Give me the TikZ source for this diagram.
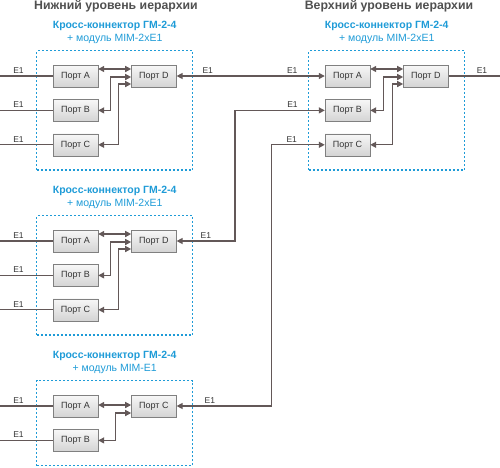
\documentclass[tikz,border=0pt]{standalone}
\usepackage{fontspec}
\setmainfont{Liberation Sans}
\usetikzlibrary{positioning}
\usetikzlibrary{fit}
\usetikzlibrary{arrows.meta}
\definecolor{lnkgray}{HTML}{635858}
\definecolor{ttlblue}{HTML}{1E9BD7}
\definecolor{hdrgray}{HTML}{505050}
\def\myhdist{33pt}
\def\myvdist{12pt}
\tikzset{
>={Triangle[length=6pt,width=6pt]}, % All arrows with filled triangle
port/.style={draw=black!50,top color=black!3,bottom color=black!17,
  minimum width=45pt,minimum height=22pt,inner sep=0pt,
  font=\fontsize{9}{10}\selectfont,text=black!80},
frame/.style={draw=ttlblue,line width=1.2pt,dash pattern=on 2pt off 2pt,
  inner xsep=16pt,inner ysep=14pt},
ttl/.style={align=center,text=ttlblue,font=\fontsize{10.5}{12.5}\selectfont},
hdr/.style={anchor=base,text=hdrgray,font=\bfseries\fontsize{12.3}{13}\selectfont},
lnk/.style={draw=lnkgray,line width=1.3pt},
lbl/.style={above,inner sep=2pt,font=\fontsize{8.5}{9}\selectfont,text=black!80},
}

\begin{document}
\begin{tikzpicture}[x=1pt,y=-1pt]
\useasboundingbox (0,0) rectangle (500,467);
\coordinate (w) at (0,0);
\coordinate (e) at (500,0);
\coordinate (v1) at (235,0);
\coordinate (v2) at (271.5,0);
\node[hdr] at (116,9.5) {Нижний уровень иерархии};
\node[hdr] at (389,9.5) {Верхний уровень иерархии};

% lower level, first cross-connector
\node[port] (a1) at (75.5,76) {Порт A};
\node[port,below=\myvdist of a1] (b1) {Порт B};
\node[port,below=\myvdist of b1] (c1) {Порт C};
\node[port,right=\myhdist of a1] (d1) {Порт D};
\node[frame,fit=(a1)(c1)(d1)] (f1) {};
\node[ttl,above=3pt of f1] {\textbf{Кросс-коннектор ГМ-2-4}\\+ модуль MIM-2xE1};
\draw[lnk,<->] ([yshift=7pt]a1.east) -- ([yshift=7pt]d1.west);
\draw[lnk,<->] (b1.east) -- ++(12,0) |- ([yshift=-1pt]d1.west);
\draw[lnk,<->] (c1.east) -- ++(20,0) |- ([yshift=-8pt]d1.west);
\draw[lnk] (w |- a1.west) -- (a1.west) node[lbl,pos=.35]{E1};
\draw[lnk] (w |- b1.west) -- (b1.west) node[lbl,pos=.35]{E1};
\draw[lnk] (w |- c1.west) -- (c1.west) node[lbl,pos=.35]{E1};

% upper level
\node[port] (a2) at (347.5,76) {Порт A};
\node[port,below=\myvdist of a2] (b2) {Порт B};
\node[port,below=\myvdist of b2] (c2) {Порт C};
\node[port,right=\myhdist of a2] (d2) {Порт D};
\node[frame,fit=(a2)(c2)(d2)] (f2) {};
\node[ttl,above=3pt of f2] {\textbf{Кросс-коннектор ГМ-2-4}\\+ модуль MIM-2xE1};
\draw[lnk,<->] ([yshift=7pt]a2.east) -- ([yshift=7pt]d2.west);
\draw[lnk,<->] (b2.east) -- ++(13,0) |- ([yshift=-1pt]d2.west);
\draw[lnk,<->] (c2.east) -- ++(22,0) |- ([yshift=-8pt]d2.west);
\draw[lnk] (d2.east) -- (e |- d2.east) node[lbl,pos=.65]{E1};
\draw[lnk,<->] (d1.east) -- (a2.west) node[lbl,pos=.21]{E1} node[lbl,pos=.78]{E1};

% lower level, second cross-connector
\node[port] (a3) at (75.5,241) {Порт A};
\node[port,below=\myvdist of a3] (b3) {Порт B};
\node[port,below=\myvdist of b3] (c3) {Порт C};
\node[port,right=\myhdist of a3] (d3) {Порт D};
\node[frame,fit=(a3)(c3)(d3)] (f3) {};
\node[ttl,above=3pt of f3] {\textbf{Кросс-коннектор ГМ-2-4}\\+ модуль MIM-2xE1};
\draw[lnk,<->] ([yshift=7pt]a3.east) -- ([yshift=7pt]d3.west);
\draw[lnk,<->] (b3.east) -- ++(12,0) |- ([yshift=-1pt]d3.west);
\draw[lnk,<->] (c3.east) -- ++(20,0) |- ([yshift=-8pt]d3.west);
\draw[lnk] (w |- a3.west) -- (a3.west) node[lbl,pos=.35]{E1};
\draw[lnk] (w |- b3.west) -- (b3.west) node[lbl,pos=.35]{E1};
\draw[lnk] (w |- c3.west) -- (c3.west) node[lbl,pos=.35]{E1};
\draw[lnk,<->] (d3.east) -- (d3.east -| v1) node[lbl,midway]{E1}
  |- (b2.west) node[lbl,pos=.82]{E1};

% lower level, third cross-connector
\node[port] (a4) at (75.5,406) {Порт A};
\node[port,below=\myvdist of a4] (b4) {Порт B};
\node[port,right=\myhdist of a4] (c4) {Порт C};
\node[frame,fit=(a4)(b4)(c4)] (f4) {};
\node[ttl,above=3pt of f4] {\textbf{Кросс-коннектор ГМ-2-4}\\+ модуль MIM-E1};
\draw[lnk,<->] ([yshift=1pt]a4.east) -- ([yshift=1pt]c4.west);
\draw[lnk,<->] (b4.east) -- ++(17,0) |- ([yshift=-7pt]c4.west);
\draw[lnk] (w |- a4.west) -- (a4.west) node[lbl,pos=.35]{E1};
\draw[lnk] (w |- b4.west) -- (b4.west) node[lbl,pos=.35]{E1};
\draw[lnk,<->] (c4.east) -- (c4.east -| v2) node[lbl,pos=.35]{E1}
  |- (c2.west) node[lbl,pos=.69]{E1};
\end{tikzpicture}
\end{document}
